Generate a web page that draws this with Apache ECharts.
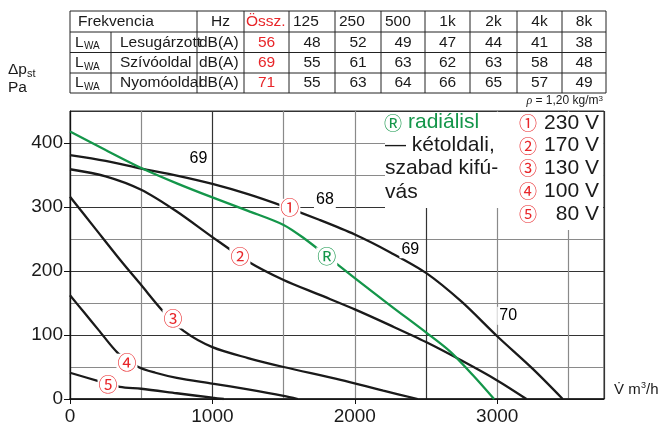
<!DOCTYPE html>
<html>
<head>
<meta charset="utf-8">
<script src="https://cdn.jsdelivr.net/npm/echarts@6/dist/echarts.min.js"></script>
<style>html,body{margin:0;padding:0;background:#fff;}#c{width:663px;height:437px;}</style>
</head>
<body>
<div id="c"></div>
<script>
// ---------- data ----------
const freqBands = ['125', '250', '500', '1k', '2k', '4k', '8k'];
const rowNames = ['Lesugárzott', 'Szívóoldal', 'Nyomóoldal'];
const totalLevels = [56, 69, 71];
const bandLevels = [
  [48, 52, 49, 47, 44, 41, 38],
  [55, 61, 63, 62, 63, 58, 48],
  [55, 63, 64, 66, 65, 57, 49]
];
const voltages = ['230 V', '170 V', '130 V', '100 V', '80 V'];
const circledNums = ['①', '②', '③', '④', '⑤'];
const xTickLabels = [0, 1000, 2000, 3000];
const yTickLabels = [0, 100, 200, 300, 400];

const curve230 = [[0,381],[250,372],[500,360],[750,349],[1000,336],[1250,320],[1500,301],[1750,280],[2000,257],[2250,229],[2500,197],[2750,152],[3000,98],[3250,47],[3460,0]];
const curve170 = [[0,359],[250,348],[500,327],[750,293],[1000,253],[1250,215],[1500,186],[1750,163],[2000,140],[2250,115],[2500,89],[2750,60],[3000,29],[3205,0]];
const curve130 = [[0,316],[175,267],[350,218],[500,178],[650,138],[800,106],[1000,81],[1250,64],[1500,50],[1900,30],[2200,13],[2442,0]];
const curve100 = [[0,162],[100,135],[200,108],[340,71],[480,50],[600,41],[750,33],[1000,24],[1250,15],[1500,5],[1600,0]];
const curve80  = [[0,41],[200,28],[350,19],[500,16],[750,9],[1000,2],[1080,0]];
const curveRadial = [[0,418],[250,389],[500,361],[750,337],[1000,315],[1250,294],[1500,272],[1650,250],[1800,224],[2000,189],[2250,146],[2500,104],[2670,74],[2830,37],[2978,0]];

const voltageMarks = [['①',1544,298],['②',1193,222],['③',723,125],['④',400,56],['⑤',267,22]];
const radialMark = [['Ⓡ',1803,222]];
const levelMarks = [['69',902,375],['68',1790,311],['69',2390,234],['70',3077,130]];

// ---------- styles ----------
const FONT = "'Liberation Sans', Arial, Helvetica, sans-serif";
const CIRC = "'Noto Sans CJK JP', 'DejaVu Sans', sans-serif";
const RED = '#e8262a';
const GREEN = '#14964a';
const INK = '#1a1a1a';
const DARK = '#333';
const GREY = '#8a8a8a';

const chart = echarts.init(document.getElementById('c'), null, {renderer: 'canvas'});

// ---------- table (graphic) ----------
const tCols = [70, 111, 197, 244, 289, 335, 381, 425, 470, 517, 562, 606];
const tRows = [11, 32, 52.5, 73, 93];
const g = [];
function line(x1, y1, x2, y2) {
  g.push({type: 'line', shape: {x1, y1, x2, y2}, style: {stroke: '#222', lineWidth: 1}, z: 20});
}
function txt(x, y, text, o) {
  o = o || {};
  g.push({type: 'text', x, y, z: 21, style: {
    text, fill: o.fill || INK, font: (o.italic ? 'italic ' : '') + (o.size || 15.5) + 'px ' + (o.family || FONT),
    textAlign: o.align || 'left', textVerticalAlign: o.va || 'middle'
  }});
}
tRows.forEach(y => line(tCols[0], y, tCols[tCols.length - 1], y));
tCols.forEach((x, i) => {
  if (i === 1) line(x, tRows[1], x, tRows[4]);
  else line(x, tRows[0], x, tRows[4]);
});
const rc = i => (tRows[i] + tRows[i + 1]) / 2;
const cc = i => (tCols[i] + tCols[i + 1]) / 2;
txt(78, rc(0), 'Frekvencia');
txt(cc(2), rc(0), 'Hz', {align: 'center'});
txt(246, rc(0), 'Össz.', {fill: RED});
freqBands.forEach((b, j) => {
  if (j < 3) txt(tCols[4 + j] + 4, rc(0), b);
  else txt(cc(4 + j), rc(0), b, {align: 'center'});
});
rowNames.forEach((n, r) => {
  const y = rc(r + 1);
  txt(75, y, 'L');
  txt(84, y + 4, 'WA', {size: 10});
  txt(120, y, n);
  txt(199, y, 'dB(A)');
  txt(cc(3), y, String(totalLevels[r]), {fill: RED, align: 'center'});
  bandLevels[r].forEach((v, j) => txt(cc(4 + j), y, String(v), {align: 'center'}));
});
g.push({type: 'text', x: 603, y: 101, z: 21, style: {
  text: '{i|ρ} = 1,20 kg/m{s|3}', textAlign: 'right', textVerticalAlign: 'middle', fill: INK,
  font: '12px ' + FONT,
  rich: {i: {fontStyle: 'italic', fontSize: 12, fontFamily: 'Liberation Serif'}, s: {fontSize: 8, verticalAlign: 'top', padding: [0,0,5,0]}}
}});
// axis names
txt(8, 70, 'Δp', {size: 15.5});
txt(27, 74, 'st', {size: 11});
txt(8, 88, 'Pa', {size: 15.5});
txt(614, 390, 'V̇ m', {size: 15});
txt(641, 386, '3', {size: 9});
txt(646, 390, '/h', {size: 15});

// legend white boxes
g.push({type: 'rect', shape: {x: 385, y: 112, width: 218, height: 96}, style: {fill: '#fff'}, z: 15});
g.push({type: 'rect', shape: {x: 520, y: 112, width: 83, height: 118}, style: {fill: '#fff'}, z: 15});
g.push({type: 'text', x: 384, y: 123, z: 21, style: {text: 'Ⓡ', fill: GREEN, font: '18px ' + CIRC, textVerticalAlign: 'middle'}});
txt(408, 122, 'radiálisl', {fill: GREEN, size: 21});
txt(385, 145, '— kétoldali,', {size: 21});
txt(385, 168, 'szabad kifú-', {size: 21});
txt(385, 192, 'vás', {size: 21});
voltages.forEach((v, i) => {
  const y = 123 + i * 22.7;
  g.push({type: 'text', x: 519, y, z: 21, style: {text: circledNums[i], fill: RED, font: '18px ' + CIRC, textVerticalAlign: 'middle'}});
  txt(599, y, v, {size: 21, align: 'right'});
});

// ---------- series ----------
function curve(data, color) {
  return {type: 'line', data, smooth: 0.3, symbol: 'none', lineStyle: {color, width: 2.3}, z: 3, silent: true};
}
function marks(arr, color, size, family, pad) {
  return {
    type: 'scatter', symbol: 'circle', symbolSize: 1, itemStyle: {color: '#fff', opacity: 1}, z: 6, silent: true,
    data: arr.map(a => ({name: a[0], value: [a[1], a[2]]})),
    label: {show: true, position: 'inside', formatter: p => p.name, color, opacity: 1, fontSize: size, fontFamily: family,
      backgroundColor: '#fff', padding: pad, textBorderWidth: 0}
  };
}

const option = {
  animation: false,
  backgroundColor: '#fff',
  grid: {left: 70, top: 111, width: 534, height: 288, show: true, borderColor: DARK, borderWidth: 1, backgroundColor: 'transparent'},
  xAxis: [{
    type: 'value', min: 0, max: 3750, interval: 500,
    axisLine: {show: true, lineStyle: {color: '#111', width: 1.5}},
    axisTick: {show: false}, axisLabel: {show: false},
    splitLine: {show: true, lineStyle: {width: 1.2, color: [DARK, GREY, DARK, GREY, GREY, DARK, GREY, GREY, DARK]}}
  }, {
    type: 'value', min: 0, max: 3750, position: 'bottom',
    axisLine: {show: false}, splitLine: {show: false},
    axisTick: {show: true, length: 5, lineStyle: {color: '#111'}, customValues: xTickLabels},
    axisLabel: {show: true, customValues: xTickLabels, formatter: v => String(v), color: INK, fontSize: 19, fontFamily: FONT, margin: 8}
  }],
  yAxis: [{
    type: 'value', min: 0, max: 450, interval: 50,
    axisLine: {show: true, lineStyle: {color: '#111', width: 1.2}},
    axisTick: {show: false}, axisLabel: {show: false},
    splitLine: {show: true, lineStyle: {width: 1.2, color: [DARK, GREY, DARK, GREY, DARK, GREY, DARK, GREY, GREY, DARK]}}
  }, {
    type: 'value', min: 0, max: 450, position: 'left',
    axisLine: {show: false}, splitLine: {show: false},
    axisTick: {show: true, length: 6, lineStyle: {color: '#111'}, customValues: yTickLabels},
    axisLabel: {show: true, customValues: yTickLabels, formatter: v => String(v), color: INK, fontSize: 19, fontFamily: FONT, margin: 7}
  }],
  series: [
    curve(curve230, INK), curve(curve170, INK), curve(curve130, INK),
    curve(curve100, INK), curve(curve80, INK), curve(curveRadial, GREEN),
    marks(voltageMarks, RED, 19, CIRC, [0, 1]),
    marks(radialMark, GREEN, 19, CIRC, [0, 1]),
    marks(levelMarks, '#000', 16, FONT, [1, 2])
  ],
  graphic: g
};
chart.setOption(option);
</script>
</body>
</html>
